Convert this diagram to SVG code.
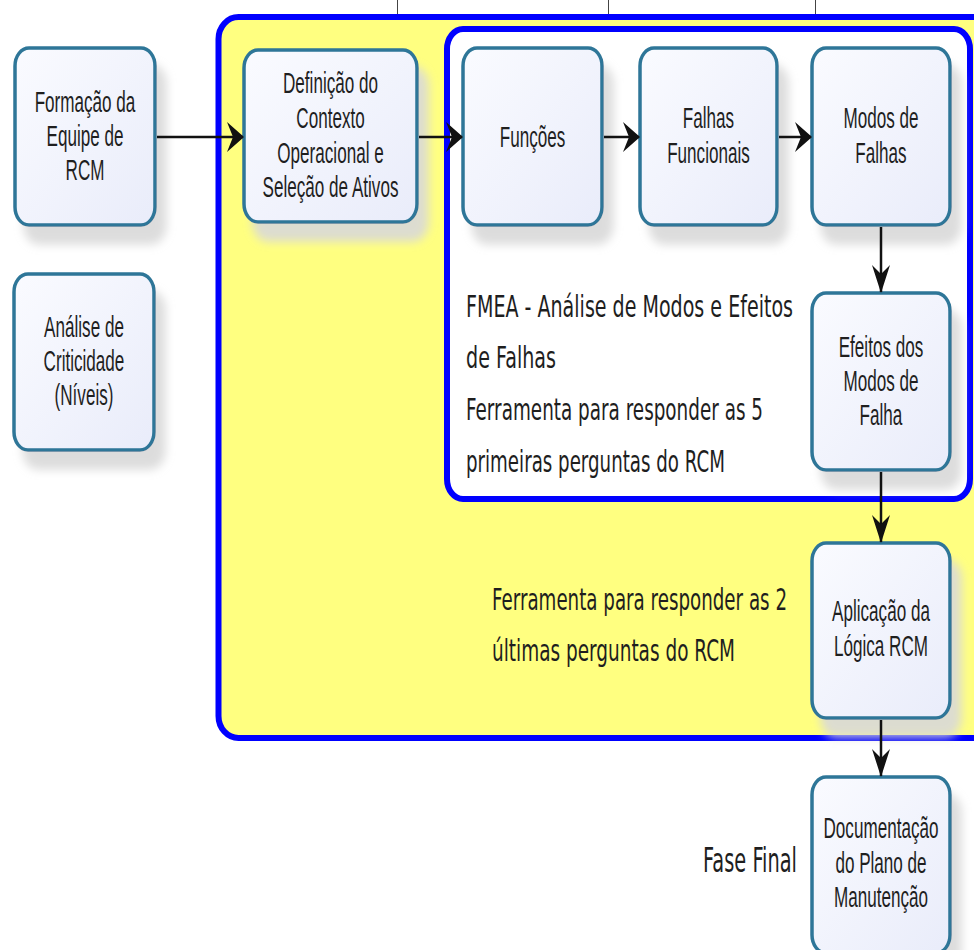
<svg xmlns="http://www.w3.org/2000/svg" width="974" height="950" viewBox="0 0 974 950">
  <defs>
    <linearGradient id="nodeFill" x1="0" y1="0" x2="1" y2="1">
      <stop offset="0" stop-color="#fafbff"/>
      <stop offset="1" stop-color="#e9ecfa"/>
    </linearGradient>
    <filter id="shadow" x="-20%" y="-20%" width="150%" height="150%">
      <feGaussianBlur in="SourceAlpha" stdDeviation="5" result="b"/>
      <feOffset in="b" dx="10" dy="18" result="o"/>
      <feFlood flood-color="#d9d9d9" flood-opacity="0.9"/>
      <feComposite in2="o" operator="in" result="s"/>
      <feMerge>
        <feMergeNode in="s"/>
        <feMergeNode in="SourceGraphic"/>
      </feMerge>
    </filter>
    <marker id="arrH" viewBox="0 0 17 30" refX="16" refY="15" markerWidth="17" markerHeight="30" markerUnits="userSpaceOnUse" orient="auto">
      <path d="M0,0 L17,15 L0,30 L6,15 Z" fill="#111"/>
    </marker>
    <marker id="arrV" viewBox="0 0 28 18" refX="27" refY="9" markerWidth="28" markerHeight="18" markerUnits="userSpaceOnUse" orient="auto">
      <path d="M0,0 L28,9 L0,18 L9,9 Z" fill="#111"/>
    </marker>
  </defs>
  <style>
    .node rect { fill: url(#nodeFill); stroke: #2e7698; stroke-width: 3.5; filter: url(#shadow); }
    .lbl { font-family: "Liberation Sans", Arial, sans-serif; font-size: 30px; fill: #1f1f1f; text-anchor: middle; }
    .hand { font-family: "DejaVu Sans", sans-serif; font-size: 31px; fill: #1e1e1e; }
    .conn { stroke: #111; stroke-width: 2.5; fill: none; }
    .tick { stroke: #444; stroke-width: 1; }
  </style>

  <rect width="974" height="950" fill="#ffffff"/>

  <g id="ticks">
    <line class="tick" x1="397.5" y1="0" x2="397.5" y2="14"/>
    <line class="tick" x1="608.5" y1="0" x2="608.5" y2="14"/>
    <line class="tick" x1="815.5" y1="0" x2="815.5" y2="14"/>
  </g>

  <g id="outer-group">
    <rect x="218.5" y="17" width="800" height="721" rx="20" ry="22" fill="#ffff80" stroke="#0000ff" stroke-width="6"/>
  </g>
  <g id="fmea-group">
    <rect x="447" y="29" width="523" height="470" rx="16" ry="20" fill="#ffffff" stroke="#0000ff" stroke-width="6"/>
    <text class="hand" x="466" y="317" textLength="327" lengthAdjust="spacingAndGlyphs">FMEA - Análise de Modos e Efeitos</text>
    <text class="hand" x="466" y="368" textLength="90" lengthAdjust="spacingAndGlyphs">de Falhas</text>
    <text class="hand" x="466" y="420" textLength="297" lengthAdjust="spacingAndGlyphs">Ferramenta para responder as 5</text>
    <text class="hand" x="466" y="472" textLength="259" lengthAdjust="spacingAndGlyphs">primeiras perguntas do RCM</text>
  </g>
  <g id="logic-note">
    <text class="hand" x="492" y="610" textLength="295" lengthAdjust="spacingAndGlyphs">Ferramenta para responder as 2</text>
    <text class="hand" x="492" y="661" textLength="243" lengthAdjust="spacingAndGlyphs">últimas perguntas do RCM</text>
  </g>
  <g id="final-note">
    <text class="hand" x="703" y="872" textLength="94" lengthAdjust="spacingAndGlyphs" style="font-size:33px">Fase Final</text>
  </g>

  <g id="node-formacao" class="node">
    <rect x="15" y="48" width="140" height="177" rx="14" ry="18"/>
    <g transform="translate(85 0) scale(0.57 1)">
      <text class="lbl" x="0" y="112">Formação da</text>
      <text class="lbl" x="0" y="146">Equipe de</text>
      <text class="lbl" x="0" y="180">RCM</text>
    </g>
  </g>

  <g id="node-analise" class="node">
    <rect x="14" y="274" width="140" height="176" rx="14" ry="18"/>
    <g transform="translate(84 0) scale(0.57 1)">
      <text class="lbl" x="0" y="337">Análise de</text>
      <text class="lbl" x="0" y="371">Criticidade</text>
      <text class="lbl" x="0" y="405">(Níveis)</text>
    </g>
  </g>

  <g id="node-definicao" class="node">
    <rect x="244" y="50" width="173" height="172" rx="14" ry="18"/>
    <g transform="translate(330.5 0) scale(0.57 1)">
      <text class="lbl" x="0" y="93">Definição do</text>
      <text class="lbl" x="0" y="128">Contexto</text>
      <text class="lbl" x="0" y="163">Operacional e</text>
      <text class="lbl" x="0" y="197">Seleção de Ativos</text>
    </g>
  </g>

  <g id="node-funcoes" class="node">
    <rect x="463" y="48" width="139" height="177" rx="14" ry="18"/>
    <g transform="translate(532.5 0) scale(0.57 1)">
      <text class="lbl" x="0" y="147">Funções</text>
    </g>
  </g>

  <g id="node-falhas-funcionais" class="node">
    <rect x="640" y="48" width="137" height="177" rx="14" ry="18"/>
    <g transform="translate(708.5 0) scale(0.57 1)">
      <text class="lbl" x="0" y="128">Falhas</text>
      <text class="lbl" x="0" y="163">Funcionais</text>
    </g>
  </g>

  <g id="node-modos" class="node">
    <rect x="812" y="48" width="138" height="177" rx="14" ry="18"/>
    <g transform="translate(881 0) scale(0.57 1)">
      <text class="lbl" x="0" y="128">Modos de</text>
      <text class="lbl" x="0" y="163">Falhas</text>
    </g>
  </g>

  <g id="node-efeitos" class="node">
    <rect x="812" y="293" width="138" height="177" rx="14" ry="18"/>
    <g transform="translate(881 0) scale(0.57 1)">
      <text class="lbl" x="0" y="357">Efeitos dos</text>
      <text class="lbl" x="0" y="391">Modos de</text>
      <text class="lbl" x="0" y="425">Falha</text>
    </g>
  </g>

  <g id="node-aplicacao" class="node">
    <rect x="812" y="543" width="138" height="175" rx="14" ry="18"/>
    <g transform="translate(881 0) scale(0.57 1)">
      <text class="lbl" x="0" y="621">Aplicação da</text>
      <text class="lbl" x="0" y="656">Lógica RCM</text>
    </g>
  </g>

  <g id="node-documentacao" class="node">
    <rect x="812" y="777" width="138" height="176" rx="14" ry="18"/>
    <g transform="translate(881 0) scale(0.57 1)">
      <text class="lbl" x="0" y="838">Documentação</text>
      <text class="lbl" x="0" y="873">do Plano de</text>
      <text class="lbl" x="0" y="907">Manutenção</text>
    </g>
  </g>

  <g id="connectors">
    <line class="conn" x1="157" y1="137" x2="243" y2="137" marker-end="url(#arrH)"/>
    <line class="conn" x1="419" y1="137" x2="462" y2="137" marker-end="url(#arrH)"/>
    <line class="conn" x1="604" y1="137" x2="639" y2="137" marker-end="url(#arrH)"/>
    <line class="conn" x1="779" y1="137" x2="811" y2="137" marker-end="url(#arrH)"/>
    <line class="conn" x1="881" y1="227" x2="881" y2="292" marker-end="url(#arrV)"/>
    <line class="conn" x1="881" y1="472" x2="881" y2="542" marker-end="url(#arrV)"/>
    <line class="conn" x1="881" y1="720" x2="881" y2="776" marker-end="url(#arrV)"/>
  </g>
</svg>
